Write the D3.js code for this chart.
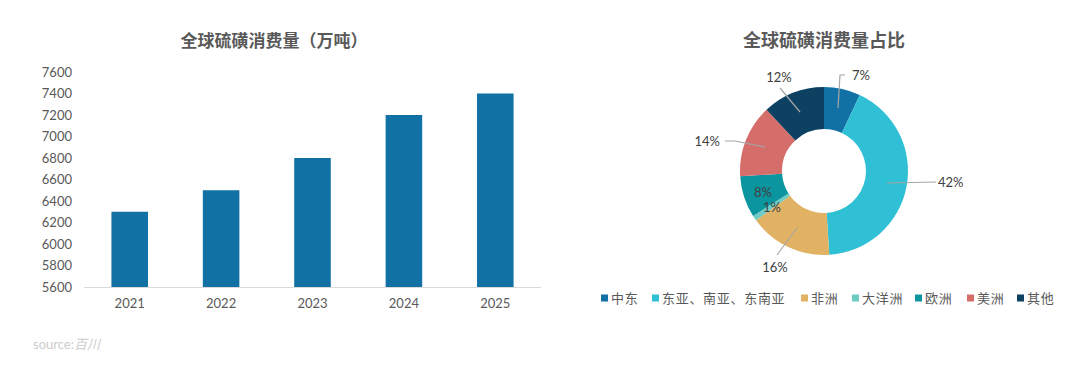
<!DOCTYPE html>
<html>
<head>
<meta charset="utf-8">
<script src="https://cdn.jsdelivr.net/npm/d3@7"></script>
<style>
  body { margin: 0; background: #fff; }
  text { font-family: Lato, "Noto Sans CJK SC", sans-serif; }
</style>
</head>
<body>
<div id="viz-container"></div>
<script>
// bar chart data
let years = ["2021", "2022", "2023", "2024", "2025"];
let consumption = [6300, 6500, 6800, 7200, 7400];
let yTicks = [5600, 5800, 6000, 6200, 6400, 6600, 6800, 7000, 7200, 7400, 7600];

// donut data
let regions = ["中东", "东亚、南亚、东南亚", "非洲", "大洋洲", "欧洲", "美洲", "其他"];
let shares = [7, 42, 16, 1, 8, 14, 12];
let regionColors = ["#1170a4", "#30c0d5", "#e1b264", "#6ecbc4", "#0b959f", "#d56d6a", "#0d4161"];

let viz = d3.select("#viz-container")
  .append("svg")
    .attr("width", 1080)
    .attr("height", 367)
;

// ---------- bar chart ----------
let x = d3.scaleBand().domain(years).range([84, 541]).paddingInner(0.6).paddingOuter(0.3);
let y = d3.scaleLinear().domain([5600, 7600]).range([287, 72]);

viz.append("text")
  .attr("x", 274).attr("y", 47)
  .attr("text-anchor", "middle")
  .attr("font-family", "'Noto Sans CJK SC'")
  .attr("font-size", 17).attr("font-weight", "bold")
  .attr("fill", "#595959")
  .text("全球硫磺消费量（万吨）");

viz.selectAll(".bar").data(consumption).enter()
  .append("rect")
    .attr("class", "bar")
    .attr("x", (d, i) => x(years[i]))
    .attr("y", d => y(d))
    .attr("width", x.bandwidth())
    .attr("height", d => y(5600) - y(d))
    .attr("fill", "#1170a4");

let yAxis = viz.append("g")
  .attr("transform", "translate(78,0)")
  .call(d3.axisLeft(y).tickValues(yTicks).tickFormat(d3.format("d")).tickSize(0).tickPadding(6));
yAxis.select(".domain").remove();
yAxis.selectAll("text").attr("font-size", 13).attr("fill", "#595959").attr("font-family", "Lato");

let xAxis = viz.append("g")
  .attr("transform", "translate(0,287)")
  .call(d3.axisBottom(x).tickSize(0).tickPadding(12));
xAxis.select(".domain").attr("stroke", "#d9d9d9").attr("d", "M84,0.5H541");
xAxis.selectAll("text").attr("font-size", 13).attr("fill", "#595959").attr("font-family", "Lato");

// ---------- donut ----------
let cx = 824, cy = 171;
let pie = d3.pie().sort(null).value(d => d);
let arcs = pie(shares);
let arc = d3.arc().innerRadius(42).outerRadius(84);

viz.append("text")
  .attr("x", cx).attr("y", 47)
  .attr("text-anchor", "middle")
  .attr("font-family", "'Noto Sans CJK SC'")
  .attr("font-size", 18).attr("font-weight", "bold")
  .attr("fill", "#595959")
  .text("全球硫磺消费量占比");

let donut = viz.append("g").attr("transform", "translate(" + cx + "," + cy + ")");
donut.selectAll("path").data(arcs).enter()
  .append("path")
    .attr("d", arc)
    .attr("fill", (d, i) => regionColors[i]);

// leader lines & labels (label positions relative to center)
let labelPos = [
  { lx: 28, ly: -96, anchor: "start", line: [[14, -63], [16, -96], [21, -96]] },
  { lx: 114, ly: 11, anchor: "start", line: [[63, 12], [112, 11]] },
  { lx: -49, ly: 96, anchor: "middle", line: [[-27, 57], [-47, 84]] },
  { lx: -52, ly: 36, anchor: "middle", line: null },
  { lx: -61, ly: 21, anchor: "middle", line: null },
  { lx: -104, ly: -30, anchor: "end", line: [[-59, -24], [-89, -30], [-99, -30]] },
  { lx: -45, ly: -94, anchor: "middle", line: [[-24, -59], [-44, -83]] }
];

donut.selectAll(".leader").data(labelPos.filter(d => d.line)).enter()
  .append("path")
    .attr("class", "leader")
    .attr("d", d => d3.line()(d.line))
    .attr("fill", "none")
    .attr("stroke", "#a6a6a6")
    .attr("stroke-width", 1.2);

donut.selectAll(".plabel").data(arcs).enter()
  .append("text")
    .attr("class", "plabel")
    .attr("x", (d, i) => labelPos[i].lx)
    .attr("y", (d, i) => labelPos[i].ly + 4.5)
    .attr("text-anchor", (d, i) => labelPos[i].anchor)
    .attr("font-size", 13)
    .attr("fill", "#404040")
    .text(d => d.data + "%");

// legend
let legendX = [601, 652, 801, 852, 915, 967, 1017];
let legend = viz.selectAll(".legend").data(regions).enter()
  .append("g")
    .attr("class", "legend")
    .attr("transform", (d, i) => "translate(" + legendX[i] + ",298)");
legend.append("rect")
  .attr("x", 0).attr("y", -3.5)
  .attr("width", 7).attr("height", 7)
  .attr("fill", (d, i) => regionColors[i]);
legend.append("text")
  .attr("x", 10).attr("y", 5)
  .attr("font-family", "'Noto Sans CJK SC'")
  .attr("font-size", 13)
  .attr("letter-spacing", 0.7)
  .attr("fill", "#595959")
  .text(d => d);

// source
let src = viz.append("text")
  .attr("x", 33).attr("y", 349)
  .attr("font-family", "'Liberation Sans', 'Noto Sans CJK SC'")
  .attr("font-size", 13)
  .attr("fill", "#cccccc");
src.append("tspan").text("source:");
src.append("tspan").attr("font-style", "italic").text("百川");
</script>
</body>
</html>
